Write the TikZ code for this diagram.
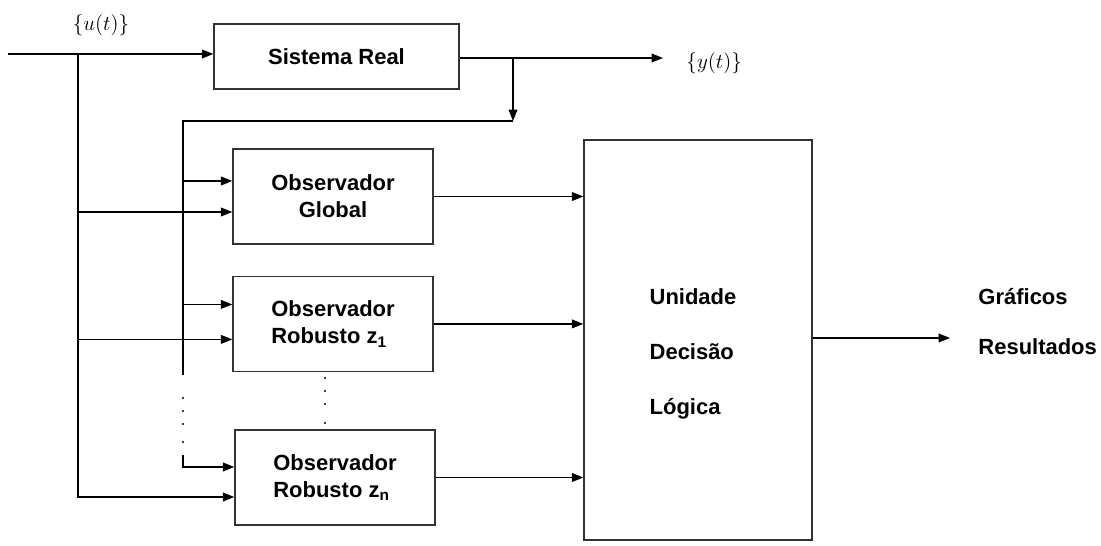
\documentclass[tikz,border=0pt]{standalone}
\usepackage{fontspec}
\setsansfont{Liberation Sans}
\usetikzlibrary{arrows.meta, positioning, calc}

\begin{document}
\begin{tikzpicture}[
    >={Triangle[length=6.5pt,width=5pt]},
    line width=0.7pt,
    every node/.style={font=\sffamily\bfseries\fontsize{12.5}{15.5}\selectfont},
    block/.style={rectangle, draw=black!80, line width=0.8pt, minimum width=4.0cm, minimum height=1.9cm, inner sep=2pt},
    sig/.style={font=\fontsize{11.5}{14}\selectfont},
    lbl/.style={inner sep=0pt}
]
\useasboundingbox (0,0) rectangle (22.02,-10.92);

% ============================================================
% 1. REAL SYSTEM
% ============================================================
\node[block, minimum width=4.9cm, minimum height=1.3cm] (plant) at (6.73,-1.13) {Sistema Real};

\coordinate (uin)   at (0.16,-1.08);
\coordinate (ufork) at (1.56,-1.08);
\draw[->] (uin) -- (uin -| plant.west);
\node[sig] (ulbl) at (2.02,-0.5) {$\{u(t)\}$};

\coordinate (yout) at (13.26,-1.16);
\coordinate (ytap) at (10.26,-1.16);
\draw[->] (plant.east |- yout) -- (yout);
\node[sig, anchor=west] (ylbl) at (13.6,-1.27) {$\{y(t)\}$};

% ============================================================
% 2. OBSERVERS
% ============================================================
\node[block, align=center] (glob) at (6.66,-3.93) {Observador\\Global};
\node[block, align=left, below=0.62cm of glob] (obs1) {Observador\\Robusto z\textsubscript{1}};
\node[block, align=left] (obsn) at (6.70,-9.55) {Observador\\Robusto z\textsubscript{n}};

\coordinate (g-in1)  at ($(glob.west)+(0,0.31)$);
\coordinate (g-in2)  at ($(glob.west)+(0,-0.31)$);
\coordinate (o1-in1) at ($(obs1.west)+(0,0.39)$);
\coordinate (o1-in2) at ($(obs1.west)+(0,-0.31)$);
\coordinate (on-in1) at ($(obsn.west)+(0,0.21)$);
\coordinate (on-in2) at ($(obsn.west)+(0,-0.39)$);

% input bus
\draw[->] (ufork) |- (on-in2);
\draw[->] (ufork |- g-in2) -- (g-in2);
\draw[->] (ufork |- o1-in2) -- (o1-in2);

% output feedback bus
\coordinate (fbturn)   at (10.26,-2.42);
\coordinate (fbcorner) at (3.66,-2.42);
\coordinate (fbstop)   at (3.66,-7.5);
\coordinate (fbgo)     at (3.66,-9.1);
\draw[->] (ytap) -- (fbturn);
\draw (fbturn) -- (fbcorner) -- (fbstop);
\draw[->] (fbcorner |- g-in1) -- (g-in1);
\draw[->] (fbcorner |- o1-in1) -- (o1-in1);
\draw[->] (fbgo) |- (on-in1);

% dots
\foreach \y in {7.96,8.22,8.48,8.84} \fill (3.66,-\y) circle (0.7pt);
\foreach \y in {7.56,7.82,8.08,8.46} \fill (6.5,-\y) circle (0.7pt);

% ============================================================
% 3. DECISION UNIT
% ============================================================
\node[block, minimum width=4.56cm, minimum height=8.0cm] (dec) at (13.96,-6.8) {};
\node[lbl, align=left] (dectxt) at ($(dec.center)+(-0.1,-0.28)$) {Unidade\\[16pt]Decisão\\[16pt]Lógica};

\draw[->] (glob.east) -- (glob.east -| dec.west);
\draw[->] (obs1.east) -- (obs1.east -| dec.west);
\draw[->] (obsn.east) -- (obsn.east -| dec.west);

\coordinate (res) at (19.0,-6.76);
\draw[->] (dec.east |- res) -- (res);
\node[anchor=west] (graf) at (19.44,-5.94) {Gráficos};
\node[anchor=west] (resu) at (19.44,-6.94) {Resultados};

\end{tikzpicture}
\end{document}
